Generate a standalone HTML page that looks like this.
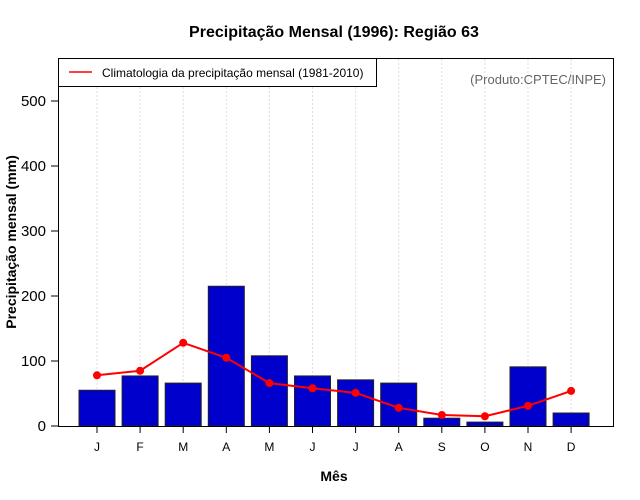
<!DOCTYPE html>
<html><head><meta charset="utf-8"><style>
body{margin:0;background:#fff;}
svg{display:block;font-family:"Liberation Sans",sans-serif;}
</style></head><body>
<svg id="chart" width="640" height="500">
<text x="334" y="37" text-anchor="middle" font-size="16" font-weight="bold">Precipitação Mensal (1996): Região 63</text>
<g id="grid"></g>
<g id="bars"></g>
<g id="line"></g>
<rect x="58.5" y="58.5" width="555" height="368" fill="none" stroke="#000" stroke-width="1"/>
<g id="yaxis"></g>
<g id="xaxis"></g>
<text x="16" y="242" transform="rotate(-90 16 242)" text-anchor="middle" font-size="14" font-weight="bold">Precipitação mensal (mm)</text>
<text x="334" y="481" text-anchor="middle" font-size="14" font-weight="bold">Mês</text>
<g>
<rect x="58.5" y="58.5" width="318" height="28" fill="#fff" stroke="#000"/>
<line x1="69" y1="72" x2="92" y2="72" stroke="red" stroke-width="1.5"/>
<text x="102" y="77" font-size="12">Climatologia da precipitação mensal (1981-2010)</text>
</g>
<text x="606" y="84" text-anchor="end" font-size="13" fill="#666">(Produto:CPTEC/INPE)</text>
</svg>
<script>
const months=["J","F","M","A","M","J","J","A","S","O","N","D"];
const precip=[55,77,66,215,108,77,71,66,12,6,91,20];
const clim=[78,85,128,105,66,58,51,28,17,15,31,54];
const yTicks=[0,100,200,300,400,500];
const NS="http://www.w3.org/2000/svg";
const xs=i=>97+i*43.1;
const ys=v=>426-v*0.65;
function mk(p,t,a){const e=document.createElementNS(NS,t);for(const k in a)e.setAttribute(k,a[k]);document.getElementById(p).appendChild(e);return e;}
months.forEach((m,i)=>{
 const g=mk("grid","line",{x1:xs(i),x2:xs(i),y1:59,y2:426,stroke:"#ddd","stroke-dasharray":"2,2"});
 
 
 const b=mk("bars","rect",{x:xs(i)-18,y:ys(precip[i]),width:36,height:426-ys(precip[i]),fill:"#0000cc",stroke:"#222","stroke-width":1});
 
 
 const t=mk("xaxis","line",{x1:xs(i),x2:xs(i),y1:426,y2:433,stroke:"#000"});
 
 
 const l=mk("xaxis","text",{x:xs(i),y:451,"text-anchor":"middle","font-size":"12"});
 l.textContent=m;
 
 
});
const pl=mk("line","polyline",{points:clim.map((v,i)=>xs(i)+","+ys(v)).join(" "),fill:"none",stroke:"red","stroke-width":2});


clim.forEach((v,i)=>{
 const c=mk("line","circle",{cx:xs(i),cy:ys(v),r:4,fill:"red"});
 
 
});
yTicks.forEach(v=>{
 const t=mk("yaxis","line",{x1:51,x2:58,y1:ys(v),y2:ys(v),stroke:"#000"});
 
 
 const l=mk("yaxis","text",{x:46,y:ys(v)+5,"text-anchor":"end","font-size":"15"});
 l.textContent=v;
 
 
});
</script>
</body></html>
